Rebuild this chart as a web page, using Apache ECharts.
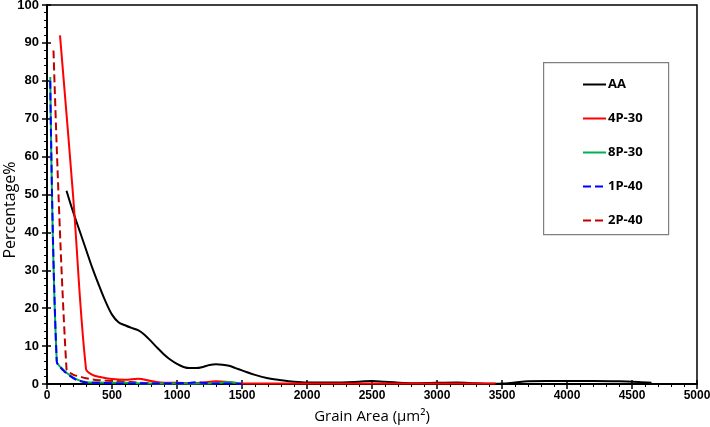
<!DOCTYPE html>
<html><head><meta charset="utf-8">
<script src="https://cdn.jsdelivr.net/npm/echarts@6/dist/echarts.min.js"></script>
<style>html,body{margin:0;padding:0;background:#fff}#c{width:710px;height:427px}</style>
</head><body><div id="c"></div>
<script>
const seriesNames = ['AA', '4P-30', '8P-30', '1P-40', '2P-40'];
const xTicks = [0, 500, 1000, 1500, 2000, 2500, 3000, 3500, 4000, 4500, 5000];
const yTicks = [0, 10, 20, 30, 40, 50, 60, 70, 80, 90, 100];
const xTitle = 'Grain Area (μm²)';
const yTitle = 'Percentage%';

const dataAA = [[150,51],[200,45.5],[250,40.5],[300,35.5],[350,30.5],[400,26],[450,21.8],[500,18.3],[550,16.3],[600,15.5],[650,14.8],[700,14.2],[750,13],[800,11.3],[850,9.5],[900,7.8],[950,6.4],[1000,5.3],[1050,4.5],[1100,4.2],[1150,4.2],[1200,4.5],[1250,5],[1300,5.2],[1350,5.1],[1400,4.8],[1450,4.2],[1500,3.6],[1600,2.4],[1700,1.5],[1800,1.0],[1900,0.6],[2000,0.4],[2200,0.4],[2400,0.6],[2500,0.8],[2600,0.6],[2800,0.2],[3000,0.3],[3150,0.4],[3300,0.2],[3450,0.05],[3500,0.1],[3600,0.4],[3700,0.7],[3850,0.8],[4000,0.8],[4200,0.8],[4400,0.7],[4550,0.5],[4650,0.3]];
const data4P30 = [[100,92],[200,50],[300,4],[350,2.4],[400,1.9],[500,1.3],[600,1.1],[700,1.4],[800,0.8],[900,0.3],[1000,0.3],[1100,0.2],[1200,0.4],[1300,0.7],[1400,0.5],[1500,0.1],[1700,0.1],[2000,0.1],[2300,0.1],[2600,0.1],[3000,0.1],[3450,0.1]];
const data8P30 = [[25,81],[75,6],[125,3.8],[175,2.3],[225,1.3],[275,0.7],[325,0.4],[400,0.4],[500,0.3],[600,0.3],[700,0.2],[800,0.1],[900,0.1],[1000,0.1],[1100,0.1],[1200,0.1],[1300,0.2],[1400,0.5],[1450,0.3],[1500,0]];
const data1P40 = [[25,80],[75,6],[125,3.6],[175,2.2],[225,1.1],[275,0.6],[325,0.3],[400,0.3],[500,0.2],[600,0.1],[700,0.2],[800,0.1],[900,0.1],[1000,0.2],[1100,0.3],[1150,0.5],[1200,0.3],[1300,0.1],[1400,0.1],[1500,0]];
const data2P40 = [[50,88],[150,4],[200,2.5],[250,2],[300,1.5],[400,1.0],[500,0.8],[600,0.6],[700,0.4],[800,0.2],[900,0.1],[1000,0.1]];

const colors = ['#000000', '#ff0000', '#00b050', '#0000ff', '#c00000'];
const types = ['solid', 'solid', 'solid', 'dashed', 'dashed'];
const datas = [dataAA, data4P30, data8P30, data1P40, data2P40];

const FONT = 'Open Sans';
const TICKFONT = 'Liberation Sans';
const chart = echarts.init(document.getElementById('c'));
const xBase = {type:'value', min:0, max:5000, interval:500};
const yBase = {type:'value', min:0, max:100, interval:10};
chart.setOption({
  animation:false,
  backgroundColor:'#fff',
  grid:{left:47, right:13, top:5, bottom:43, containLabel:false, outerBoundsMode:'none',
        show:true, borderColor:'#000', borderWidth:1.5, backgroundColor:'transparent'},
  xAxis:[
    Object.assign({}, xBase, {
      name:xTitle, nameLocation:'middle', nameGap:25,
      nameTextStyle:{fontFamily:FONT, fontWeight:'normal', fontSize:15, color:'#000'},
      axisLine:{show:true, lineStyle:{color:'#000', width:2}},
      axisTick:{show:true, length:5, lineStyle:{color:'#000', width:1.5}},
      minorTick:{show:true, splitNumber:5, length:3, lineStyle:{color:'#000', width:1}},
      axisLabel:{margin:6, fontFamily:TICKFONT, fontWeight:'bold', fontSize:12, color:'#000',
        formatter:v => xTicks.includes(v) ? String(v) : ''},
      splitLine:{show:false}
    }),
    Object.assign({}, xBase, {
      position:'bottom', axisLine:{show:false},
      axisTick:{show:true, inside:true, length:4, lineStyle:{color:'#000', width:1.5}},
      axisLabel:{show:false}, splitLine:{show:false}
    })
  ],
  yAxis:[
    Object.assign({}, yBase, {
      axisLine:{show:true, lineStyle:{color:'#000', width:2}},
      axisTick:{show:true, length:5, lineStyle:{color:'#000', width:1.5}},
      minorTick:{show:true, splitNumber:5, length:3, lineStyle:{color:'#000', width:1}},
      axisLabel:{margin:8, fontFamily:TICKFONT, fontWeight:'bold', fontSize:13, color:'#000',
        formatter:v => yTicks.includes(v) ? String(v) : ''},
      splitLine:{show:false}
    }),
    Object.assign({}, yBase, {
      position:'left', axisLine:{show:false},
      axisTick:{show:true, inside:true, length:4, lineStyle:{color:'#000', width:1.5}},
      axisLabel:{show:false}, splitLine:{show:false}
    })
  ],
  graphic:[
    {type:'rect', left:543, top:62, shape:{width:125, height:172},
      style:{fill:'#fff', stroke:'#7f7f7f', lineWidth:1.2}, z:5},
    {type:'text', x:10, y:210, rotation:Math.PI/2,
      style:{text:yTitle, align:'center', verticalAlign:'middle',
        font:'normal 16px ' + FONT, fill:'#000'}}
  ],
  legend:{
    orient:'vertical', left:577, top:73, itemWidth:23, itemHeight:14, itemGap:21,
    z:10, itemStyle:{opacity:0},
    textStyle:{fontFamily:FONT, fontWeight:'bold', fontSize:13, color:'#000', padding:[0,0,0,-3]},
    data:seriesNames
  },
  series: seriesNames.map((n, i) => ({
    name:n, type:'line', data:datas[i], xAxisIndex:0, yAxisIndex:0,
    smooth:0.35, symbol:'none', showSymbol:false,
    lineStyle:{color:colors[i], width:2, type:types[i]},
    itemStyle:{color:colors[i]},
    z: i === 2 ? 3 : (i === 3 ? 4 : 2)
  }))
});
</script></body></html>
